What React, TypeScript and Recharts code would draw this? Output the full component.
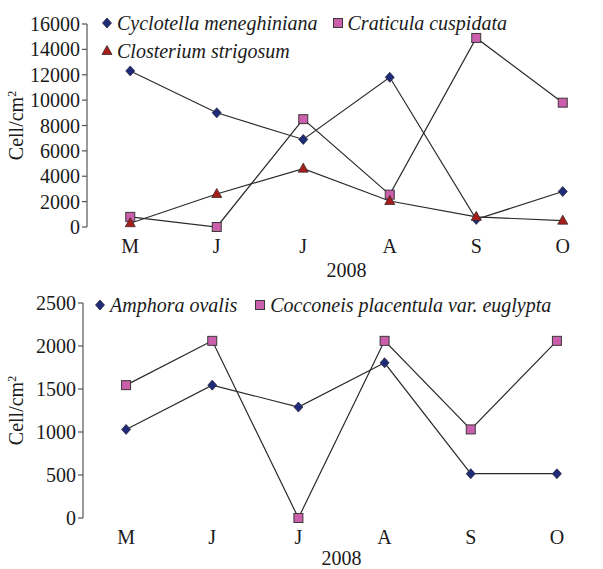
import { LineChart, Line, XAxis, YAxis, Legend, Label } from 'recharts';

const FONT = '"Liberation Serif", "Times New Roman", serif';

const months = ['M', 'J', 'J', 'A', 'S', 'O'];

// upper panel
const cyclotella = [12300, 9000, 6900, 11800, 600, 2800];
const craticula = [800, 0, 8500, 2550, 14900, 9800];
const closterium = [300, 2600, 4600, 2050, 800, 500];
const topTicks = [0, 2000, 4000, 6000, 8000, 10000, 12000, 14000, 16000];

// lower panel
const amphora = [1030, 1545, 1290, 1805, 515, 515];
const cocconeis = [1545, 2060, 0, 2060, 1030, 2060];
const bottomTicks = [0, 500, 1000, 1500, 2000, 2500];

const bandEdges = [0, 1, 2, 3, 4, 5, 6];

const topData = months.map((m, i) => ({
	month: m,
	cyclotella: cyclotella[i],
	craticula: craticula[i],
	closterium: closterium[i],
}));

const bottomData = months.map((m, i) => ({
	month: m,
	amphora: amphora[i],
	cocconeis: cocconeis[i],
}));

type Shape = 'diamond' | 'square' | 'triangle';
type Series = { key: string; name: string; shape: Shape; color: string };

const topSeries: Series[] = [
	{ key: 'cyclotella', name: 'Cyclotella meneghiniana', shape: 'diamond', color: '#1f2a78' },
	{ key: 'craticula', name: 'Craticula cuspidata', shape: 'square', color: '#cc5fab' },
	{ key: 'closterium', name: 'Closterium strigosum', shape: 'triangle', color: '#a81c1c' },
];

const bottomSeries: Series[] = [
	{ key: 'amphora', name: 'Amphora ovalis', shape: 'diamond', color: '#1f2a78' },
	{ key: 'cocconeis', name: 'Cocconeis placentula var. euglypta', shape: 'square', color: '#cc5fab' },
];

const Marker = ({ shape, cx, cy, color }: { shape: Shape; cx: number; cy: number; color: string }) => {
	if (shape === 'diamond') {
		return (
			<polygon
				points={`${cx},${cy - 5} ${cx + 4.5},${cy} ${cx},${cy + 5} ${cx - 4.5},${cy}`}
				fill={color}
				stroke="#2a2a3a"
				strokeWidth={0.8}
			/>
		);
	}
	if (shape === 'square') {
		return <rect x={cx - 4.5} y={cy - 4.5} width={9} height={9} fill={color} stroke="#3a3a3a" strokeWidth={1} />;
	}
	return (
		<polygon
			points={`${cx},${cy - 5.5} ${cx + 5},${cy + 3.5} ${cx - 5},${cy + 3.5}`}
			fill={color}
			stroke="#3a2a2a"
			strokeWidth={0.8}
		/>
	);
};

const LegendBox = ({ items, gap }: { items: Series[]; gap: number }) => (
	<div style={{ display: 'flex', flexWrap: 'wrap', columnGap: gap, fontFamily: FONT, fontSize: 20, fontStyle: 'italic', color: '#1a1a1a', lineHeight: '28px' }}>
		{items.map((s) => (
			<div key={s.key} style={{ display: 'flex', alignItems: 'center', whiteSpace: 'nowrap' }}>
				<svg width={12} height={12} style={{ marginRight: 4 }}>
					<Marker shape={s.shape} cx={6} cy={6} color={s.color} />
				</svg>
				<span>{s.name}</span>
			</div>
		))}
	</div>
);

const yLabel = (props: any) => {
	const vb = props.viewBox;
	const cx = vb.x + 16;
	const cy = vb.y + vb.height / 2;
	return (
		<text
			x={cx}
			y={cy}
			transform={`rotate(-90, ${cx}, ${cy})`}
			textAnchor="middle"
			dy="0.35em"
			fontFamily={FONT}
			fontSize={20}
			fill="#1a1a1a"
		>
			Cell/cm<tspan baselineShift="super" fontSize={12}>2</tspan>
		</text>
	);
};

const tickStyle = { fill: '#1a1a1a', fontSize: 20, fontFamily: FONT };
const axisStroke = { stroke: '#555', strokeWidth: 1.2 };

type PanelProps = {
	data: any[];
	series: Series[];
	width: number;
	height: number;
	top: number;
	yWidth: number;
	xHeight: number;
	labelOffset: number;
	yMax: number;
	yTicks: number[];
	legendStyle: React.CSSProperties;
	legendGap: number;
};

const Panel = (p: PanelProps) => {
	const pad = (p.width - p.yWidth) / 12;
	return (
		<LineChart width={p.width} height={p.height} data={p.data} margin={{ top: p.top, right: 0, bottom: 0, left: 0 }}>
			<XAxis
				xAxisId="edge"
				type="number"
				domain={[0, 6]}
				ticks={bandEdges}
				allowDataOverflow
				tick={false}
				height={0}
				tickSize={5}
				axisLine={axisStroke}
				tickLine={axisStroke}
			/>
			<XAxis
				xAxisId="cat"
				dataKey="month"
				axisLine={false}
				tickLine={false}
				tickSize={5}
				tickMargin={7}
				height={p.xHeight}
				interval={0}
				padding={{ left: pad, right: pad }}
				tick={tickStyle}
			>
				<Label value="2008" position="insideBottom" offset={p.labelOffset} style={tickStyle} />
			</XAxis>
			<YAxis
				width={p.yWidth}
				domain={[0, p.yMax]}
				ticks={p.yTicks}
				interval={0}
				tickSize={5}
				tickMargin={2}
				axisLine={axisStroke}
				tickLine={axisStroke}
				tick={tickStyle}
				label={yLabel}
			/>
			<Legend
				layout="horizontal"
				verticalAlign="middle"
				align="center"
				wrapperStyle={p.legendStyle}
				content={() => <LegendBox items={p.series} gap={p.legendGap} />}
			/>
			{p.series.map((s) => (
				<Line
					key={s.key}
					xAxisId="cat"
					dataKey={s.key}
					name={s.name}
					stroke="#2a2a2a"
					strokeWidth={1.2}
					isAnimationActive={false}
					dot={(d: any) => <Marker key={`${s.key}-${d.index}`} shape={s.shape} cx={d.cx} cy={d.cy} color={s.color} />}
					activeDot={false}
				/>
			))}
		</LineChart>
	);
};

export default function App() {
	return (
		<div style={{ position: 'absolute', left: 0, top: 0, width: 603, height: 569, overflow: 'hidden', background: '#fff' }}>
			<Panel
				data={topData}
				series={topSeries}
				width={606}
				height={282}
				top={24}
				yWidth={87}
				xHeight={55}
				labelOffset={5}
				yMax={16000}
				yTicks={topTicks}
				legendStyle={{ left: 101, top: 9, width: 440, height: 56 }}
				legendGap={14}
			/>
			<Panel
				data={bottomData}
				series={bottomSeries}
				width={600}
				height={287}
				top={21}
				yWidth={83}
				xHeight={51}
				labelOffset={4}
				yMax={2500}
				yTicks={bottomTicks}
				legendStyle={{ left: 94, top: 9, width: 500, height: 28 }}
				legendGap={17}
			/>
		</div>
	);
}
